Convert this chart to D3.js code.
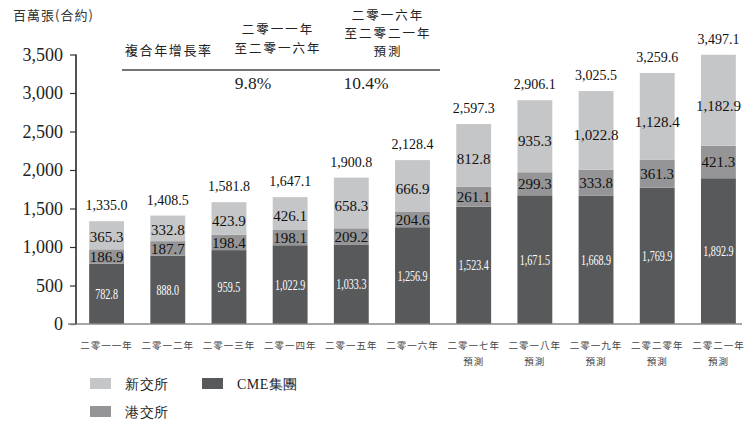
<!DOCTYPE html>
<html><head><meta charset="utf-8">
<script src="https://cdn.jsdelivr.net/npm/d3@7"></script>
<style>
html,body{margin:0;padding:0;background:#fff;}
svg text{font-family:"Liberation Serif","Times New Roman",Times,"DejaVu Serif",serif;}
</style></head>
<body><svg id="c" width="744" height="421"></svg>
<script>
const years = ["二零一一年","二零一二年","二零一三年","二零一四年","二零一五年","二零一六年","二零一七年","二零一八年","二零一九年","二零二零年","二零二一年"];
const forecast = [false,false,false,false,false,false,true,true,true,true,true];
const cme = [782.8,888.0,959.5,1022.9,1033.3,1256.9,1523.4,1671.5,1668.9,1769.9,1892.9];
const hkex = [186.9,187.7,198.4,198.1,209.2,204.6,261.1,299.3,333.8,361.3,421.3];
const sgx = [365.3,332.8,423.9,426.1,658.3,666.9,812.8,935.3,1022.8,1128.4,1182.9];
const totals = [1335.0,1408.5,1581.8,1647.1,1900.8,2128.4,2597.3,2906.1,3025.5,3259.6,3497.1];
const yTicks = [0,500,1000,1500,2000,2500,3000,3500];
const cagrHeader = "複合年增長率";
const cagrCols = [["二零一一年","至二零一六年"],["二零一六年","至二零二一年","預測"]];
const cagrVals = ["9.8%","10.4%"];
const seriesNames = ["新交所","港交所","CME集團"];
const colors = {sgx:"#c5c6c8", hkex:"#959597", cme:"#58595b"};

const SERIF = "'Liberation Serif','Times New Roman',Times,'DejaVu Serif',serif";
const CJK = "'Noto Sans CJK TC',sans-serif";

const svg = d3.select("#c");
const x = d3.scaleBand().domain(years).range([76,749]).paddingInner(0.43).paddingOuter(0.215);
const y = d3.scaleLinear().domain([0,3500]).range([324,54.5]);
const fmt = d3.format(",.1f");

svg.append("text").attr("x",13).attr("y",20).attr("font-size",13).attr("letter-spacing",1).attr("fill","#333").style("font-family",CJK).text("百萬張(合約)");

const yAxis = d3.axisLeft(y).tickValues(yTicks).tickSize(6).tickFormat(d3.format(","));
const ga = svg.append("g").attr("transform","translate(76,0)").call(yAxis);
ga.attr("font-family",null);
ga.select(".domain").attr("stroke","#333").attr("stroke-width",1.2).attr("d","M0,"+y(3500)+"V"+y(0));
ga.selectAll(".tick line").attr("stroke","#333").attr("stroke-width",1.2);
ga.selectAll(".tick text").attr("font-size",18).attr("fill","#222").attr("x",-13)
  .style("font-family",SERIF);

const data = years.map((yr,i)=>({yr, segs:[
  {k:"cme", v:cme[i], y0:0, y1:cme[i]},
  {k:"hkex", v:hkex[i], y0:cme[i], y1:cme[i]+hkex[i]},
  {k:"sgx", v:sgx[i], y0:cme[i]+hkex[i], y1:cme[i]+hkex[i]+sgx[i]}
], total: totals[i], fc: forecast[i]}));

const g = svg.append("g");
const bars = g.selectAll("g.bar").data(data).join("g").attr("class","bar");
bars.selectAll("rect").data(d=>d.segs.map(s=>({...s, yr:d.yr}))).join("rect")
  .attr("x",d=>x(d.yr)).attr("width",x.bandwidth())
  .attr("y",d=>y(d.y1)).attr("height",d=>y(d.y0)-y(d.y1))
  .attr("fill",d=>colors[d.k]);

bars.selectAll("text.seg").data(d=>d.segs.map(s=>({...s, yr:d.yr}))).join("text")
  .attr("class","seg")
  .attr("x",d=>x(d.yr)+x.bandwidth()/2)
  .attr("y",d=>{const h=y(d.y0)-y(d.y1); return (y(d.y0)+y(d.y1))/2 + (d.k==="sgx"? h*0.06:0);})
  .attr("dy","0.35em").attr("text-anchor","middle")
  .attr("font-size",d=>d.k==="cme"?14:15)
  .attr("fill",d=>d.k==="cme"?"#fff":"#111")
  .style("font-family",SERIF)
  .text(d=>fmt(d.v))
  .each(function(d){ if(d.k==="cme"){ const L=this.getComputedTextLength(); d3.select(this).attr("textLength",L*0.72).attr("lengthAdjust","spacingAndGlyphs"); }});

bars.append("text").attr("x",d=>x(d.yr)+x.bandwidth()/2).attr("y",d=>y(d.total)-11)
  .attr("text-anchor","middle").attr("font-size",14).attr("fill","#111").style("font-family",SERIF).text(d=>fmt(d.total));

svg.append("line").attr("x1",68).attr("x2",742).attr("y1",y(0)).attr("y2",y(0)).attr("stroke","#8a8a8a").attr("stroke-width",1.6);
svg.append("line").attr("x1",76).attr("x2",76).attr("y1",y(3500)).attr("y2",y(0)).attr("stroke","#333").attr("stroke-width",1.2);

const xl = svg.append("g");
data.forEach((d,i)=>{
  const cx = x(d.yr)+x.bandwidth()/2;
  xl.append("text").attr("x",cx).attr("y",349).attr("text-anchor","middle").attr("font-size",9.5).attr("letter-spacing",1).attr("fill","#444")
    .style("font-family",CJK).text(d.yr);
  if(d.fc) xl.append("text").attr("x",cx).attr("y",365).attr("text-anchor","middle").attr("font-size",9.5).attr("letter-spacing",1).attr("fill","#444")
    .style("font-family",CJK).text("預測");
});

svg.append("text").attr("x",125).attr("y",55).attr("font-size",13).attr("letter-spacing",1.6).attr("fill","#222").style("font-family",CJK).text(cagrHeader);
cagrCols[0].forEach((t,i)=>svg.append("text").attr("x",278).attr("y",34+i*19).attr("text-anchor","middle").attr("font-size",12.5).attr("letter-spacing",2).attr("fill","#222").style("font-family",CJK).text(t));
cagrCols[1].forEach((t,i)=>svg.append("text").attr("x",388).attr("y",20+i*18).attr("text-anchor","middle").attr("font-size",12.5).attr("letter-spacing",2).attr("fill","#222").style("font-family",CJK).text(t));
svg.append("line").attr("x1",122).attr("x2",440).attr("y1",70).attr("y2",70).attr("stroke","#444").attr("stroke-width",1.3);
svg.append("text").attr("x",253).attr("y",89).attr("text-anchor","middle").attr("font-size",17.5).attr("fill","#222").style("font-family",SERIF).text(cagrVals[0]);
svg.append("text").attr("x",366).attr("y",89).attr("text-anchor","middle").attr("font-size",17.5).attr("fill","#222").style("font-family",SERIF).text(cagrVals[1]);

const leg = [
  {name:seriesNames[0], c:colors.sgx, x:90, y:378},
  {name:seriesNames[2], c:colors.cme, x:202, y:378},
  {name:seriesNames[1], c:colors.hkex, x:90, y:406}
];
leg.forEach(l=>{
  svg.append("rect").attr("x",l.x).attr("y",l.y).attr("width",21).attr("height",11).attr("fill",l.c);
  svg.append("text").attr("x",l.x+35).attr("y",l.y+10.5).attr("font-size",14).attr("letter-spacing",0.5).attr("fill","#222")
    .style("font-family",SERIF).text(l.name);
});
</script></body></html>
